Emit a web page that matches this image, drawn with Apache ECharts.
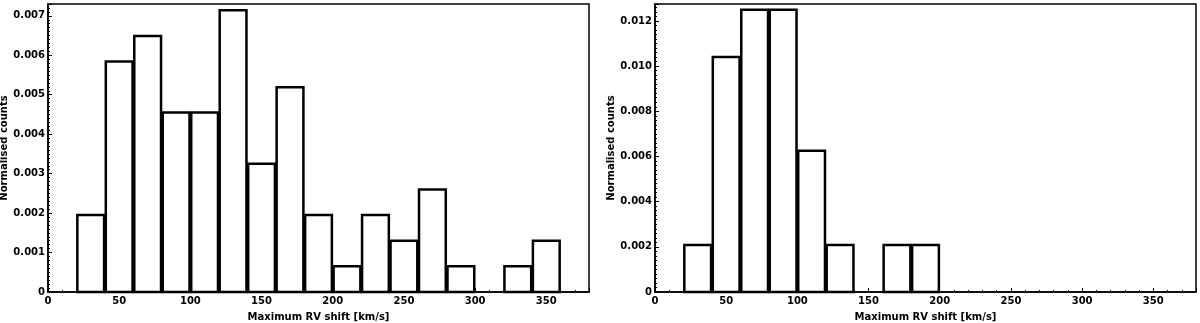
<!DOCTYPE html>
<html>
<head>
<meta charset="utf-8">
<script src="https://cdn.jsdelivr.net/npm/echarts@6/dist/echarts.min.js"></script>
<style>
    html, body { margin: 0; padding: 0; background: #fff; }
    #J_chart { width: 1200px; height: 323px; }
</style>
</head>
<body>
<div id="J_chart"></div>
<script>
const BIN_WIDTH = 20;

// left panel
const leftBinStarts = [20, 40, 60, 80, 100, 120, 140, 160, 180, 200, 220, 240, 260, 280, 300, 320, 340];
const leftValues = [0.00195, 0.00584, 0.00649, 0.00455, 0.00455, 0.00714, 0.00325, 0.00519, 0.00195,
    0.00065, 0.00195, 0.0013, 0.0026, 0.00065, 0, 0.00065, 0.0013];

// right panel
const rightBinStarts = [20, 40, 60, 80, 100, 120, 140, 160, 180];
const rightValues = [0.00208, 0.0104, 0.0125, 0.0125, 0.00625, 0.00208, 0, 0.00208, 0.00208];

const FONT = 'DejaVu Sans';

function histData(starts, values) {
    return starts.map((s, i) => [s, s + BIN_WIDTH, values[i]]).filter(d => d[2] > 0);
}

function renderBar(params, api) {
    // bars drawn a bit narrower than the bin, like rwidth in matplotlib
    let pad = 0.6;
    let p0 = api.coord([api.value(0) + pad, 0]);
    let p1 = api.coord([api.value(1) - pad, api.value(2)]);
    return {
        type: 'rect',
        shape: {x: p0[0], y: p1[1], width: p1[0] - p0[0], height: p0[1] - p1[1]},
        style: {fill: '#fff', stroke: '#000', lineWidth: 2.5}
    };
}

function xAxis(idx) {
    return {
        gridIndex: idx,
        type: 'value',
        min: 0,
        max: 380,
        interval: 50,
        name: 'Maximum RV shift [km/s]',
        nameLocation: 'middle',
        nameGap: 20,
        nameTextStyle: {fontFamily: FONT, fontWeight: 'bold', fontSize: 10, color: '#000'},
        axisLine: {show: true, lineStyle: {color: '#000', width: 1.5}},
        axisTick: {show: true, inside: true, length: 4, lineStyle: {color: '#000', width: 1}},
        minorTick: {show: true, splitNumber: 5, length: 2, lineStyle: {color: '#000', width: 1}},
        splitLine: {show: false},
        axisLabel: {
            fontFamily: FONT, fontWeight: 'bold', fontSize: 10, color: '#000', margin: 4,
            showMaxLabel: false
        }
    };
}

function yAxis(idx, max, interval) {
    return {
        gridIndex: idx,
        type: 'value',
        min: 0,
        max: max,
        interval: interval,
        name: 'Normalised counts',
        nameLocation: 'middle',
        nameGap: 36,
        nameRotate: 90,
        nameTextStyle: {fontFamily: FONT, fontWeight: 'bold', fontSize: 10, color: '#000'},
        axisLine: {show: true, lineStyle: {color: '#000', width: 1.5}},
        axisTick: {show: true, inside: true, length: 4, lineStyle: {color: '#000', width: 1}},
        minorTick: {show: true, splitNumber: 10, length: 2, lineStyle: {color: '#000', width: 1}},
        splitLine: {show: false},
        axisLabel: {
            fontFamily: FONT, fontWeight: 'bold', fontSize: 10, color: '#000', margin: 3,
            showMaxLabel: false,
            formatter: function (v) {
                return v === 0 ? '0' : v.toFixed(3);
            }
        }
    };
}

function initChart() {
    let options = {
        animation: false,
        backgroundColor: '#fff',
        grid: [{
            left: 48, top: 4, width: 541, height: 288, outerBoundsMode: 'none',
            show: true, borderColor: '#000', borderWidth: 1.5, backgroundColor: 'transparent'
        }, {
            left: 655, top: 4, width: 541, height: 288, outerBoundsMode: 'none',
            show: true, borderColor: '#000', borderWidth: 1.5, backgroundColor: 'transparent'
        }],
        xAxis: [xAxis(0), xAxis(1)],
        yAxis: [yAxis(0, 0.0073, 0.001), yAxis(1, 0.01275, 0.002)],
        series: [{
            type: 'custom',
            xAxisIndex: 0,
            yAxisIndex: 0,
            renderItem: renderBar,
            encode: {x: [0, 1], y: 2},
            data: histData(leftBinStarts, leftValues)
        }, {
            type: 'custom',
            xAxisIndex: 1,
            yAxisIndex: 1,
            renderItem: renderBar,
            encode: {x: [0, 1], y: 2},
            data: histData(rightBinStarts, rightValues)
        }]
    };
    let chart = echarts.init(document.getElementById('J_chart'));
    chart.setOption(options);
}

initChart();
</script>
</body>
</html>
